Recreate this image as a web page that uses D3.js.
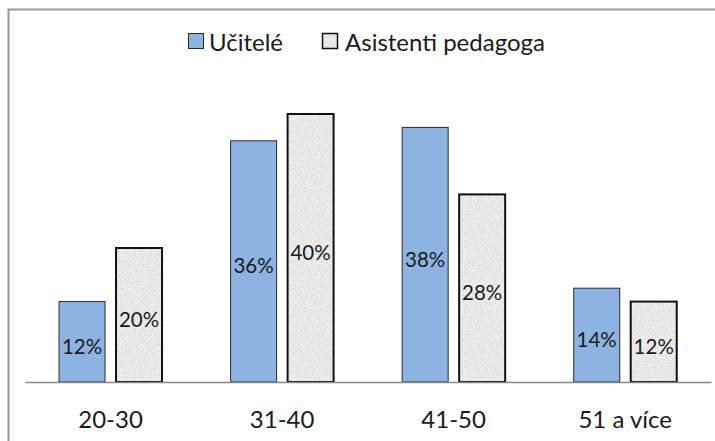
<!DOCTYPE html>
<html><head><meta charset="utf-8">
<script src="https://cdn.jsdelivr.net/npm/d3@7"></script>
<style>body{margin:0;background:#fff}svg{display:block}</style>
</head><body>
<svg id="c" width="715" height="441"></svg>
<script>
const categories = ["20-30", "31-40", "41-50", "51 a více"];
const series = ["Učitelé", "Asistenti pedagoga"];
const ucitele = [12, 36, 38, 14];
const asistenti = [20, 40, 28, 12];

const values = [ucitele, asistenti];
const data = categories.map((c, i) => ({cat: c, vals: series.map((s, j) => ({s, j, v: values[j][i]}))}));

const svg = d3.select("#c");
const font = "Lato, 'Open Sans', sans-serif";

// texture pattern
const defs = svg.append("defs");
const f = defs.append("filter").attr("id", "noise").attr("x", 0).attr("y", 0).attr("width", "100%").attr("height", "100%");
f.append("feTurbulence").attr("type", "fractalNoise").attr("baseFrequency", 0.7).attr("numOctaves", 2).attr("seed", 3).attr("result", "t");
f.append("feColorMatrix").attr("in", "t").attr("type", "matrix")
  .attr("values", "0 0 0 0 0.5  0 0 0 0 0.5  0 0 0 0 0.5  1.2 0 0 0 -0.45");
const pat = defs.append("pattern").attr("id", "tex").attr("patternUnits", "userSpaceOnUse").attr("width", 120).attr("height", 120);
pat.append("rect").attr("width", 120).attr("height", 120).attr("fill", "#f1f1f1");
pat.append("rect").attr("width", 120).attr("height", 120).attr("filter", "url(#noise)");

// border
svg.append("rect").attr("x", 8.5).attr("y", 9.5).attr("width", 720).attr("height", 450)
  .attr("fill", "none").attr("stroke", "#9a9a9a").attr("stroke-width", 2);

const baseY = 382;
const y = d3.scaleLinear().domain([0, 40]).range([baseY, 114]);
const x0 = d3.scaleBand().domain(categories).range([24.75, 711]);
const groupW = 103;
const x1 = d3.scaleBand().domain(series).range([0, groupW]).paddingInner(0.193);
const fills = ["#8DB3E2", "url(#tex)"];
const strokes = ["#2a2a2a", "#111"];
const sw = [1, 2];

const g = svg.selectAll("g.grp").data(data).join("g")
  .attr("transform", d => `translate(${x0(d.cat) + (x0.bandwidth() - groupW) / 2},0)`);

g.selectAll("rect").data(d => d.vals).join("rect")
  .attr("x", d => x1(d.s))
  .attr("y", d => y(d.v))
  .attr("width", x1.bandwidth())
  .attr("height", d => baseY - y(d.v))
  .attr("fill", d => fills[d.j])
  .attr("stroke", d => strokes[d.j])
  .attr("stroke-width", d => sw[d.j]);

g.selectAll("text").data(d => d.vals).join("text")
  .attr("x", d => x1(d.s) + x1.bandwidth() / 2)
  .attr("y", d => (y(d.v) + baseY) / 2 + 4)
  .attr("text-anchor", "middle").attr("dominant-baseline", "central")
  .attr("font-family", font).attr("font-size", 20.5).attr("fill", "#1a1a1a")
  .text(d => d.v + "%");

// axis
const axis = svg.append("g").attr("transform", `translate(0,${baseY})`)
  .call(d3.axisBottom(x0).tickSize(0).tickPadding(29));
axis.select(".domain").attr("stroke", "#888").attr("stroke-width", 1.5);
axis.selectAll("text").attr("font-family", font).attr("font-size", 24).attr("fill", "#1a1a1a");

// legend
const leg = svg.append("g").attr("transform", "translate(188,33)");
const legX = [0, 134];
const legT = [21, 23];
series.forEach((s, j) => {
  const lg = leg.append("g").attr("transform", `translate(${legX[j]},0)`);
  lg.append("rect").attr("x", 0.5).attr("y", 0.5).attr("width", 15).attr("height", 15)
    .attr("fill", fills[j]).attr("stroke", strokes[j]).attr("stroke-width", j ? 1.5 : 1);
  lg.append("text").attr("x", legT[j]).attr("y", 8.5).attr("dominant-baseline", "central")
    .attr("font-family", font).attr("font-size", 24).attr("fill", "#1a1a1a").text(s);
});
</script>
</body></html>
